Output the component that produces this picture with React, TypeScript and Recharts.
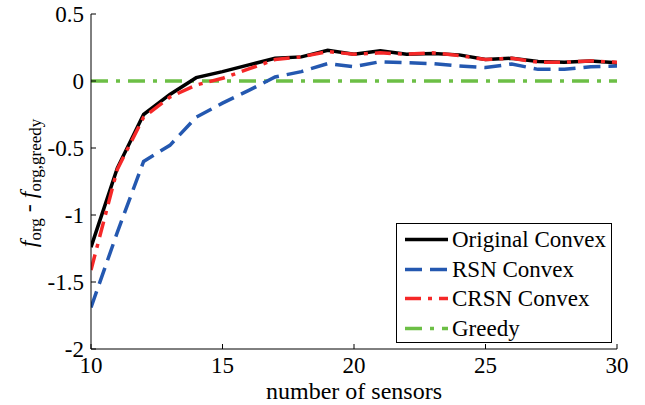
import React from "react";
import { LineChart, Line, XAxis, YAxis } from "recharts";

const sensors = [10, 11, 12, 13, 14, 15, 16, 17, 18, 19, 20, 21, 22, 23, 24, 25, 26, 27, 28, 29, 30];
const originalConvex = [-1.24, -0.65, -0.25, -0.1, 0.025, 0.07, 0.12, 0.17, 0.18, 0.23, 0.2, 0.225, 0.2, 0.205, 0.195, 0.16, 0.17, 0.145, 0.14, 0.15, 0.137];
const rsnConvex = [-1.69, -1.13, -0.6, -0.48, -0.27, -0.165, -0.07, 0.03, 0.07, 0.13, 0.107, 0.144, 0.136, 0.13, 0.112, 0.1, 0.127, 0.087, 0.087, 0.107, 0.112];
const crsnConvex = [-1.41, -0.66, -0.27, -0.12, -0.03, 0.02, 0.09, 0.16, 0.18, 0.22, 0.2, 0.21, 0.2, 0.21, 0.19, 0.16, 0.17, 0.14, 0.14, 0.15, 0.14];
const greedy = [0, 0, 0, 0, 0, 0, 0, 0, 0, 0, 0, 0, 0, 0, 0, 0, 0, 0, 0, 0, 0];

const xTicks = [10, 15, 20, 25, 30];
const yTicks = [-2, -1.5, -1, -0.5, 0, 0.5];

const FONT = "Liberation Serif, Times New Roman, Tinos, DejaVu Serif, serif";

const data = sensors.map((s, i) => ({
  x: s,
  original: originalConvex[i],
  rsn: rsnConvex[i],
  crsn: crsnConvex[i],
  greedy: greedy[i],
}));

const series = [
  { key: "original", name: "Original Convex", color: "#000000", dash: undefined as string | undefined },
  { key: "rsn", name: "RSN Convex", color: "#2458b0", dash: "17 8" },
  { key: "crsn", name: "CRSN Convex", color: "#f52828", dash: "16 7 4 7" },
  { key: "greedy", name: "Greedy", color: "#6cbf45", dash: "17 8 4 8" },
];

const BottomTick = (props: any) => {
  const { x, y, payload } = props;
  return (
    <g>
      <line x1={x} y1={y} x2={x} y2={y - 5} stroke="#000" strokeWidth={1} />
      <text x={x} y={y + 24} textAnchor="middle" fontFamily={FONT} fontSize={23} fill="#000">
        {payload.value}
      </text>
    </g>
  );
};

const TopTick = (props: any) => {
  const { x, y } = props;
  return <line x1={x} y1={y} x2={x} y2={y + 5} stroke="#000" strokeWidth={1} />;
};

const LeftTick = (props: any) => {
  const { x, y, payload } = props;
  return (
    <g>
      <line x1={x} y1={y} x2={x + 5} y2={y} stroke="#000" strokeWidth={1} />
      <text x={x - 7} y={y + 8} textAnchor="end" fontFamily={FONT} fontSize={23} fill="#000">
        {payload.value}
      </text>
    </g>
  );
};

const RightTick = (props: any) => {
  const { x, y } = props;
  return <line x1={x} y1={y} x2={x - 5} y2={y} stroke="#000" strokeWidth={1} />;
};

const LegendBox = () => (
  <div
    style={{
      position: "absolute",
      left: 396,
      top: 223,
      border: "1.5px solid #000",
      background: "#fff",
      width: 216,
      height: 120,
      boxSizing: "border-box",
      paddingTop: 1,
      fontFamily: FONT,
    }}
  >
    {series.map((s) => (
      <div key={s.key} style={{ display: "flex", alignItems: "center", height: 29.5 }}>
        <svg width={55} height={29} style={{ flex: "none" }}>
          <line x1={8} y1={14.5} x2={51} y2={14.5} stroke={s.color} strokeWidth={3.5} strokeDasharray={s.dash} />
        </svg>
        <span style={{ fontSize: 23, color: "#000", lineHeight: "29px", whiteSpace: "nowrap" }}>{s.name}</span>
      </div>
    ))}
  </div>
);

export default function App() {
  return (
    <div style={{ position: "relative", width: 645, height: 405, background: "#fff", overflow: "hidden" }}>
      <style>{"html,body{margin:0;padding:0;overflow:hidden;}"}</style>
      <LineChart width={645} height={405} data={data} margin={{ top: 14, right: 28, bottom: 0, left: 0 }}>
        <XAxis
          dataKey="x"
          type="number"
          domain={[10, 30]}
          ticks={xTicks}
          height={56}
          tickSize={0}
          tickMargin={0}
          tickLine={false}
          axisLine={{ stroke: "#000", strokeWidth: 1 }}
          tick={<BottomTick />}
          allowDataOverflow
        />
        <XAxis
          xAxisId="top"
          dataKey="x"
          type="number"
          orientation="top"
          domain={[10, 30]}
          ticks={xTicks}
          height={0}
          tickSize={0}
          tickMargin={0}
          tickLine={false}
          axisLine={{ stroke: "#000", strokeWidth: 1 }}
          tick={<TopTick />}
          allowDataOverflow
        />
        <YAxis
          type="number"
          domain={[-2, 0.5]}
          ticks={yTicks}
          width={91}
          tickSize={0}
          tickMargin={0}
          tickLine={false}
          axisLine={{ stroke: "#000", strokeWidth: 1 }}
          tick={<LeftTick />}
          allowDataOverflow
        />
        <YAxis
          yAxisId="right"
          type="number"
          orientation="right"
          domain={[-2, 0.5]}
          ticks={yTicks}
          width={0}
          tickSize={0}
          tickMargin={0}
          tickLine={false}
          axisLine={{ stroke: "#000", strokeWidth: 1 }}
          tick={<RightTick />}
          allowDataOverflow
        />
        <Line dataKey="greedy" name="Greedy" stroke="#6cbf45" strokeWidth={3.5} strokeDasharray="17 8 4 8" dot={false} isAnimationActive={false} />
        <Line dataKey="rsn" name="RSN Convex" stroke="#2458b0" strokeWidth={3.5} strokeDasharray="17 8" dot={false} isAnimationActive={false} />
        <Line dataKey="original" name="Original Convex" stroke="#000000" strokeWidth={3.5} dot={false} isAnimationActive={false} />
        <Line dataKey="crsn" name="CRSN Convex" stroke="#f52828" strokeWidth={3.5} strokeDasharray="16 7 4 7" dot={false} isAnimationActive={false} />
        <text x={354} y={399} textAnchor="middle" fontFamily={FONT} fontSize={24} fill="#000">
          number of sensors
        </text>
        <text transform="rotate(-90)" x={-183} y={36} textAnchor="middle" fontFamily={FONT} fontSize={24} fill="#000">
          <tspan fontStyle="italic">f</tspan>
          <tspan fontSize={17} dy={5}>org</tspan>
          <tspan dy={-5}> - </tspan>
          <tspan fontStyle="italic">f</tspan>
          <tspan fontSize={17} dy={5}>org,greedy</tspan>
        </text>
      </LineChart>
      <LegendBox />
    </div>
  );
}
